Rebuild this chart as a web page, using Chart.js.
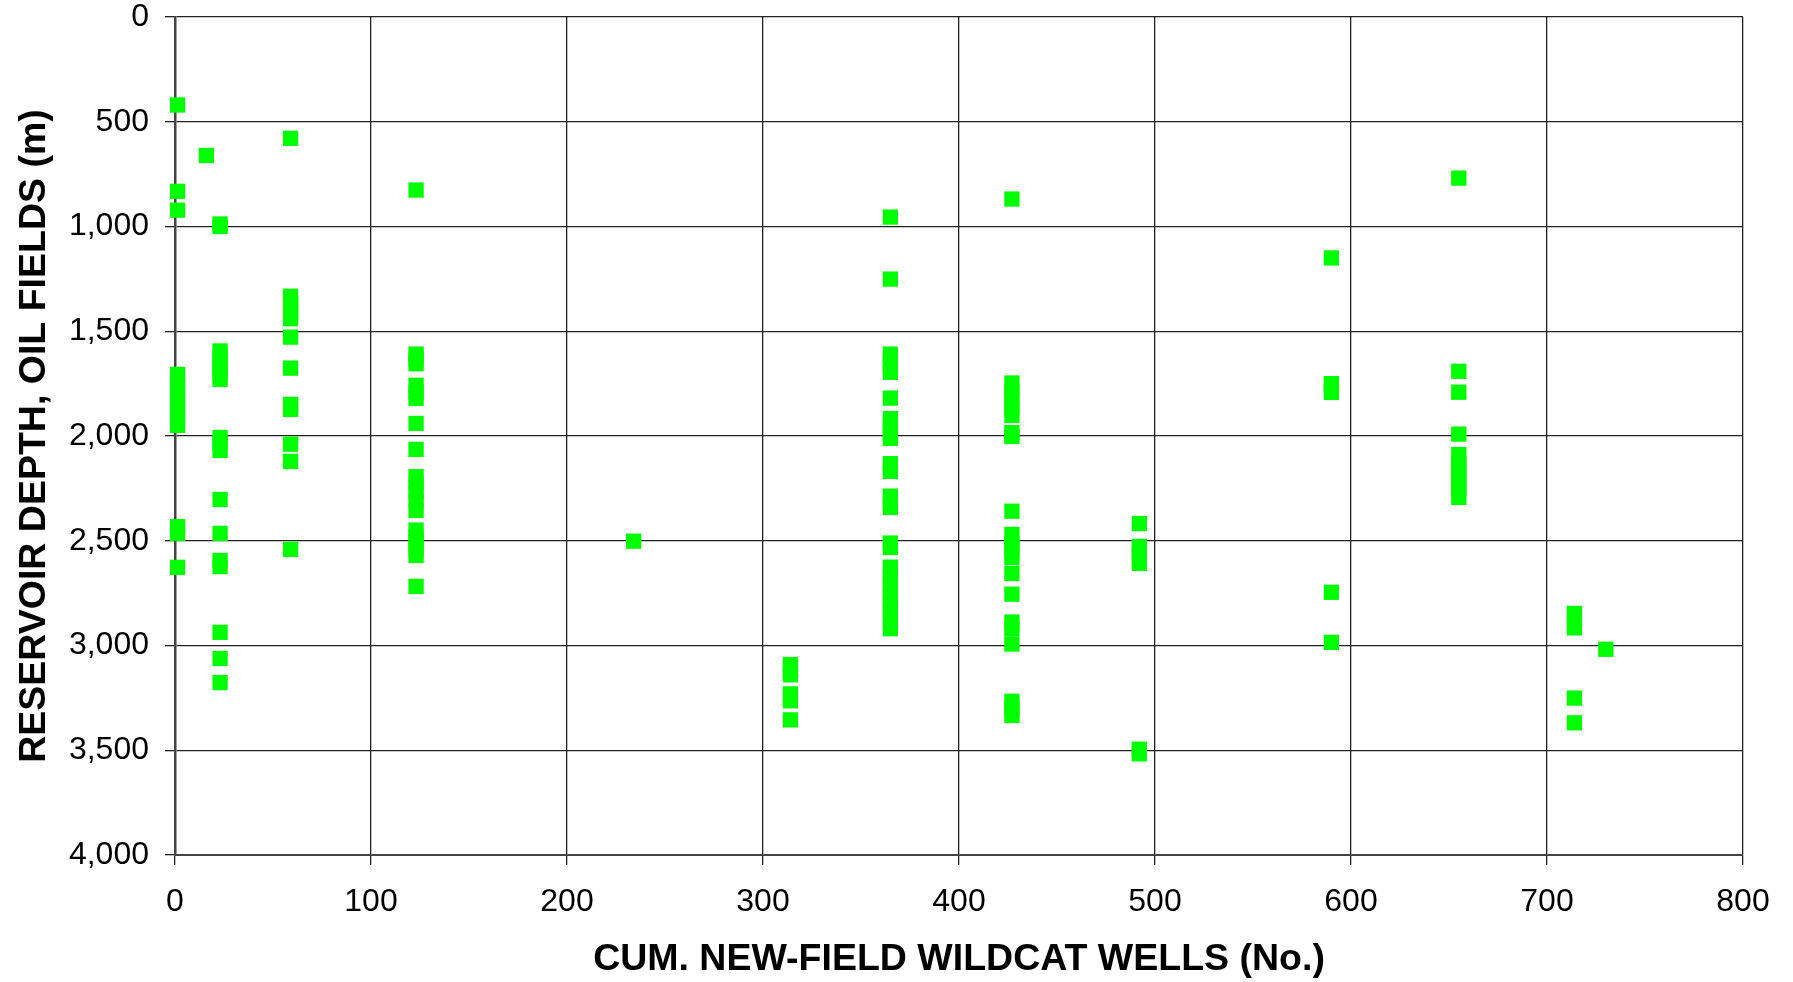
<!DOCTYPE html>
<html>
<head>
<meta charset="utf-8">
<script src="https://cdn.jsdelivr.net/npm/chart.js@4/dist/chart.umd.min.js"></script>
<style>
html, body { margin: 0; padding: 0; background: #ffffff; }
canvas { display: block; }
</style>
</head>
<body>
<canvas id="chart" width="1793" height="982"></canvas>
<script>
// Cumulative new-field wildcat wells (x) at which each group of discoveries was made
const wellCounts = [1.3, 16, 23, 59, 123, 234, 314, 365, 427, 492, 590, 655, 714, 730];

// Reservoir depths (m) of the oil fields discovered at each well count
const depthsAt1   = [420, 832, 922, 1706, 1750, 1790, 1830, 1870, 1910, 1949, 2433, 2465, 2627];
const depthsAt16  = [661];
const depthsAt23  = [988, 1000, 1594, 1620, 1650, 1680, 1705, 1730, 2007, 2035, 2069, 2303, 2465, 2594, 2623, 2937, 3062, 3177];
const depthsAt59  = [579, 1333, 1370, 1405, 1440, 1528, 1676, 1849, 1873, 2039, 2121, 2541];
const depthsAt123 = [826, 1609, 1632, 1655, 1758, 1790, 1820, 1940, 2064, 2194, 2230, 2270, 2310, 2355, 2449, 2480, 2510, 2540, 2570, 2718];
const depthsAt234 = [2502];
const depthsAt314 = [3091, 3115, 3140, 3231, 3264, 3355];
const depthsAt365 = [955, 1251, 1609, 1640, 1670, 1696, 1819, 1917, 1950, 1980, 2011, 2132, 2169, 2287, 2315, 2341, 2511, 2532, 2626, 2670, 2710, 2750, 2790, 2830, 2875, 2920];
const depthsAt427 = [869, 1747, 1785, 1825, 1865, 1902, 1984, 2002, 2359, 2470, 2510, 2545, 2580, 2656, 2755, 2888, 2920, 2993, 3266, 3300, 3334];
const depthsAt492 = [2418, 2527, 2565, 2608, 3495, 3517];
const depthsAt590 = [1150, 1750, 1770, 1792, 2746, 2985];
const depthsAt655 = [769, 1691, 1791, 1991, 2089, 2130, 2160, 2195, 2230, 2260, 2293];
const depthsAt714 = [2847, 2880, 2916, 3251, 3369];
const depthsAt730 = [3018];

const depthGroups = [depthsAt1, depthsAt16, depthsAt23, depthsAt59, depthsAt123, depthsAt234, depthsAt314,
                     depthsAt365, depthsAt427, depthsAt492, depthsAt590, depthsAt655, depthsAt714, depthsAt730];

// Axis ranges / tick steps
const xMin = 0, xMax = 800, xStep = 100;
const yMin = 0, yMax = 4000, yStep = 500;

const xTitle = 'CUM. NEW-FIELD WILDCAT WELLS (No.)';
const yTitle = 'RESERVOIR DEPTH, OIL FIELDS (m)';

// Build the point table from the arrays
const points = [];
wellCounts.forEach((w, i) => {
  depthGroups[i].forEach(d => points.push({ x: w, y: d }));
});

const FONT = '"Liberation Sans", Arial, Helvetica, sans-serif';
const gridColor = '#222222';

new Chart(document.getElementById('chart'), {
  type: 'scatter',
  data: {
    datasets: [{
      label: 'Oil fields',
      data: points,
      pointStyle: 'rect',
      pointRadius: 10.8,
      pointHoverRadius: 10.8,
      backgroundColor: '#00ff00',
      borderColor: '#00ff00',
      borderWidth: 0,
      clip: false
    }]
  },
  options: {
    responsive: false,
    animation: false,
    devicePixelRatio: 1,
    layout: { padding: { top: 17, right: 50, left: 12, bottom: 0 } },
    plugins: {
      legend: { display: false },
      tooltip: { enabled: false }
    },
    scales: {
      x: {
        type: 'linear',
        min: xMin, max: xMax,
        ticks: {
          stepSize: xStep,
          color: '#000',
          font: { family: FONT, size: 32 },
          padding: 18,
          maxRotation: 0
        },
        grid: { color: gridColor, lineWidth: 1.3, tickLength: 10, drawTicks: true },
        border: { color: '#444', width: 2 },
        title: {
          display: true,
          text: xTitle,
          color: '#000',
          font: { family: FONT, size: 37.5, weight: 'bold' },
          padding: 0
        },
        afterFit: (s) => { s.height = 127; s.paddingLeft = 0; s.paddingRight = 0; }
      },
      y: {
        type: 'linear',
        reverse: true,
        min: yMin, max: yMax,
        ticks: {
          stepSize: yStep,
          color: '#000',
          font: { family: FONT, size: 32 },
          padding: 16,
          callback: (v) => Number(v).toLocaleString('en-US')
        },
        grid: { color: gridColor, lineWidth: 1.3, tickLength: 10, drawTicks: true },
        border: { color: '#444', width: 2.5 },
        title: {
          display: true,
          text: yTitle,
          color: '#000',
          font: { family: FONT, size: 37.5, weight: 'bold' },
          padding: 0
        },
        afterFit: (s) => { s.width = 163; s.paddingTop = 0; s.paddingBottom = 0; }
      }
    }
  }
});
</script>
</body>
</html>
